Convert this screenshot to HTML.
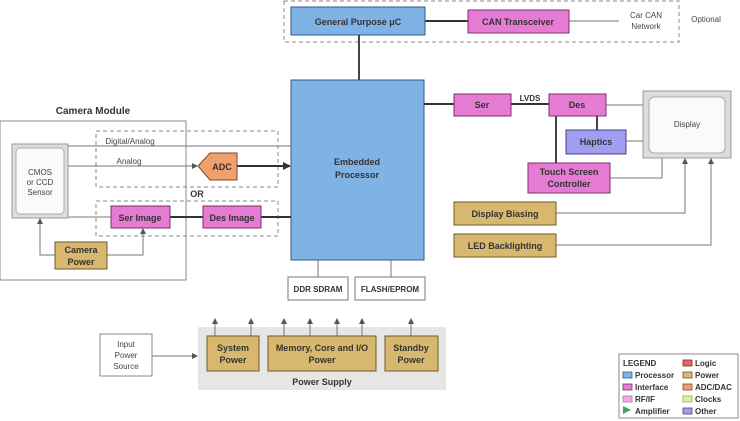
<!DOCTYPE html>
<html><head><meta charset="utf-8"><style>
body{margin:0;background:#fff}
svg{display:block;font-family:"Liberation Sans",sans-serif}
.b{font-weight:bold;fill:#333}
</style></head><body>
<svg width="740" height="421" viewBox="0 0 740 421" xmlns="http://www.w3.org/2000/svg">
<defs>
<marker id="a" markerWidth="6" markerHeight="6" refX="5" refY="3" orient="auto" markerUnits="userSpaceOnUse"><path d="M0,0 L6,3 L0,6z" fill="#555"/></marker>
<marker id="ak" markerWidth="8" markerHeight="8" refX="7" refY="4" orient="auto" markerUnits="userSpaceOnUse"><path d="M0,0 L8,4 L0,8z" fill="#333"/></marker>
</defs>
<g font-size="9" text-anchor="middle">
<!-- optional -->
<rect x="284" y="1" width="395" height="41" fill="none" stroke="#888" stroke-dasharray="4,3"/>
<line x1="425" y1="21" x2="468" y2="21" stroke="#333" stroke-width="2"/>
<line x1="569" y1="21" x2="619" y2="21" stroke="#777"/>
<rect x="291" y="7" width="134" height="28" fill="#7fb2e5" stroke="#2f5b8a"/>
<text x="358" y="25" class="b">General Purpose μC</text>
<rect x="468" y="10" width="101" height="23" fill="#e57bd3" stroke="#7a2f6e"/>
<text x="518" y="25" class="b">CAN Transceiver</text>
<text x="646" y="18" font-size="8" fill="#444">Car CAN</text>
<text x="646" y="29" font-size="8" fill="#444">Network</text>
<text x="706" y="22" font-size="8" fill="#444">Optional</text>
<line x1="359" y1="35" x2="359" y2="80" stroke="#444" stroke-width="2"/>
<!-- processor -->
<rect x="291" y="80" width="133" height="180" fill="#7fb2e5" stroke="#2f5b8a"/>
<text x="357" y="165" class="b">Embedded</text>
<text x="357" y="178" class="b">Processor</text>
<line x1="318" y1="260" x2="318" y2="277" stroke="#777"/>
<line x1="391" y1="260" x2="391" y2="277" stroke="#777"/>
<rect x="288" y="277" width="60" height="23" fill="#fff" stroke="#777"/>
<text x="318" y="292" class="b" font-size="8">DDR SDRAM</text>
<rect x="355" y="277" width="70" height="23" fill="#fff" stroke="#777"/>
<text x="390" y="292" class="b" font-size="8">FLASH/EPROM</text>
<!-- display chain -->
<line x1="424" y1="104" x2="454" y2="104" stroke="#333" stroke-width="2"/>
<line x1="511" y1="104" x2="549" y2="104" stroke="#333" stroke-width="2"/>
<text x="530" y="101" class="b" font-size="8">LVDS</text>
<line x1="606" y1="105" x2="643" y2="105" stroke="#777"/>
<line x1="597" y1="116" x2="597" y2="130" stroke="#444" stroke-width="2"/>
<line x1="556" y1="116" x2="556" y2="163" stroke="#444" stroke-width="2"/>
<line x1="626" y1="141" x2="643" y2="141" stroke="#777"/>
<polyline points="610,178 662,178 662,158" fill="none" stroke="#777"/>
<polyline points="556,213 685,213 685,159" fill="none" stroke="#777" marker-end="url(#a)"/>
<polyline points="556,245 711,245 711,159" fill="none" stroke="#777" marker-end="url(#a)"/>
<rect x="454" y="94" width="57" height="22" fill="#e57bd3" stroke="#7a2f6e"/>
<text x="482" y="108" class="b">Ser</text>
<rect x="549" y="94" width="57" height="22" fill="#e57bd3" stroke="#7a2f6e"/>
<text x="577" y="108" class="b">Des</text>
<rect x="643" y="91" width="88" height="67" fill="#ddd" stroke="#999"/>
<rect x="649" y="97" width="76" height="56" rx="5" fill="#fafafa" stroke="#aaa"/>
<text x="687" y="127" font-size="8" fill="#444">Display</text>
<rect x="566" y="130" width="60" height="24" fill="#a09ef0" stroke="#44428a"/>
<text x="596" y="145" class="b">Haptics</text>
<rect x="528" y="163" width="82" height="30" fill="#e57bd3" stroke="#7a2f6e"/>
<text x="569" y="175" class="b">Touch Screen</text>
<text x="569" y="187" class="b">Controller</text>
<rect x="454" y="202" width="102" height="23" fill="#d8b86e" stroke="#6e5a2a"/>
<text x="505" y="217" class="b">Display Biasing</text>
<rect x="454" y="234" width="102" height="23" fill="#d8b86e" stroke="#6e5a2a"/>
<text x="505" y="249" class="b">LED Backlighting</text>
<!-- camera -->
<text x="93" y="114" class="b" font-size="10">Camera Module</text>
<rect x="0" y="121" width="186" height="159" fill="none" stroke="#888"/>
<rect x="96" y="131" width="182" height="56" fill="none" stroke="#888" stroke-dasharray="4,3"/>
<rect x="96" y="201" width="182" height="35" fill="none" stroke="#888" stroke-dasharray="4,3"/>
<text x="197" y="197" class="b">OR</text>
<line x1="68" y1="146" x2="291" y2="146" stroke="#777"/>
<text x="130" y="144" font-size="8" fill="#444">Digital/Analog</text>
<line x1="68" y1="166" x2="197" y2="166" stroke="#777" marker-end="url(#a)"/>
<text x="129" y="164" font-size="8" fill="#444">Analog</text>
<line x1="237" y1="166" x2="290" y2="166" stroke="#333" stroke-width="2" marker-end="url(#ak)"/>
<polygon points="198,166 210,153 237,153 237,180 210,180" fill="#f0a06a" stroke="#7a4a2a"/>
<text x="222" y="170" class="b">ADC</text>
<line x1="68" y1="217" x2="111" y2="217" stroke="#777"/>
<line x1="170" y1="217" x2="203" y2="217" stroke="#333" stroke-width="2"/>
<line x1="261" y1="217" x2="291" y2="217" stroke="#333" stroke-width="2"/>
<rect x="12" y="144" width="56" height="74" fill="#ddd" stroke="#999"/>
<rect x="16" y="148" width="48" height="66" rx="4" fill="#fafafa" stroke="#aaa"/>
<text x="40" y="175" font-size="8" fill="#444">CMOS</text>
<text x="40" y="185" font-size="8" fill="#444">or CCD</text>
<text x="40" y="195" font-size="8" fill="#444">Sensor</text>
<rect x="111" y="206" width="59" height="22" fill="#e57bd3" stroke="#7a2f6e"/>
<text x="140" y="221" class="b">Ser Image</text>
<rect x="203" y="206" width="58" height="22" fill="#e57bd3" stroke="#7a2f6e"/>
<text x="232" y="221" class="b">Des Image</text>
<polyline points="55,255 40,255 40,219" fill="none" stroke="#777" marker-end="url(#a)"/>
<polyline points="107,255 143,255 143,229" fill="none" stroke="#777" marker-end="url(#a)"/>
<rect x="55" y="242" width="52" height="27" fill="#d8b86e" stroke="#6e5a2a"/>
<text x="81" y="253" class="b">Camera</text>
<text x="81" y="265" class="b">Power</text>
<!-- power -->
<rect x="100" y="334" width="52" height="42" fill="#fff" stroke="#888"/>
<text x="126" y="347" font-size="8" fill="#444">Input</text>
<text x="126" y="358" font-size="8" fill="#444">Power</text>
<text x="126" y="369" font-size="8" fill="#444">Source</text>
<rect x="198" y="327" width="248" height="63" fill="#e6e6e6"/>
<line x1="152" y1="356" x2="197" y2="356" stroke="#777" marker-end="url(#a)"/>
<g stroke="#777">
<line x1="215" y1="336" x2="215" y2="319" marker-end="url(#a)"/>
<line x1="251" y1="336" x2="251" y2="319" marker-end="url(#a)"/>
<line x1="284" y1="336" x2="284" y2="319" marker-end="url(#a)"/>
<line x1="310" y1="336" x2="310" y2="319" marker-end="url(#a)"/>
<line x1="337" y1="336" x2="337" y2="319" marker-end="url(#a)"/>
<line x1="362" y1="336" x2="362" y2="319" marker-end="url(#a)"/>
<line x1="411" y1="336" x2="411" y2="319" marker-end="url(#a)"/>
</g>
<rect x="207" y="336" width="52" height="35" fill="#d8b86e" stroke="#6e5a2a"/>
<text x="233" y="351" class="b">System</text>
<text x="233" y="363" class="b">Power</text>
<rect x="268" y="336" width="108" height="35" fill="#d8b86e" stroke="#6e5a2a"/>
<text x="322" y="351" class="b">Memory, Core and I/O</text>
<text x="322" y="363" class="b">Power</text>
<rect x="385" y="336" width="53" height="35" fill="#d8b86e" stroke="#6e5a2a"/>
<text x="411" y="351" class="b">Standby</text>
<text x="411" y="363" class="b">Power</text>
<text x="322" y="385" class="b">Power Supply</text>
</g>
<!-- legend -->
<g font-size="8" fill="#333" font-weight="bold">
<rect x="619" y="354" width="119" height="64" fill="#fff" stroke="#888"/>
<text x="623" y="366">LEGEND</text>
<g stroke-width="0.8">
<rect x="623" y="372" width="9" height="6" fill="#7fb2e5" stroke="#2f5b8a"/>
<rect x="623" y="384" width="9" height="6" fill="#e57bd3" stroke="#7a2f6e"/>
<rect x="623" y="396" width="9" height="6" fill="#eeaae4" stroke="#b07aa8"/>
<polygon points="623,406 631,410 623,414" fill="#3aa86a"/>
<rect x="683" y="360" width="9" height="6" fill="#e06666" stroke="#8a2a2a"/>
<rect x="683" y="372" width="9" height="6" fill="#d8b86e" stroke="#6e5a2a"/>
<rect x="683" y="384" width="9" height="6" fill="#f0a06a" stroke="#7a4a2a"/>
<rect x="683" y="396" width="9" height="6" fill="#f0ee8a" stroke="#999"/>
<rect x="683" y="408" width="9" height="6" fill="#a09ef0" stroke="#44428a"/>
</g>
<text x="635" y="378">Processor</text>
<text x="635" y="390">Interface</text>
<text x="635" y="402">RF/IF</text>
<text x="635" y="414">Amplifier</text>
<text x="695" y="366">Logic</text>
<text x="695" y="378">Power</text>
<text x="695" y="390">ADC/DAC</text>
<text x="695" y="402">Clocks</text>
<text x="695" y="414">Other</text>
</g>
</svg>
</body></html>
